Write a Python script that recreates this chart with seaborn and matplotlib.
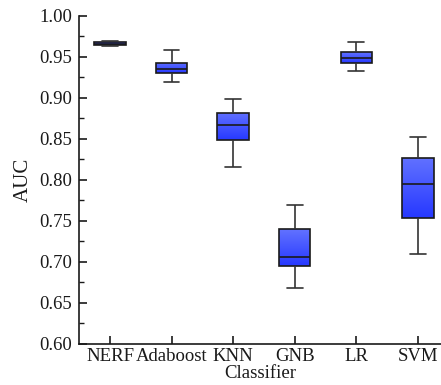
import numpy as np
import pandas as pd
import matplotlib
matplotlib.use("Agg")
import matplotlib.pyplot as plt
from matplotlib.colors import LinearSegmentedColormap
from matplotlib.ticker import MultipleLocator
import seaborn as sns

# Data: [lower whisker, Q1, median, Q3, upper whisker]
classifiers = ["NERF", "Adaboost", "KNN", "GNB", "LR", "SVM"]
nerf = [0.9630, 0.9640, 0.9660, 0.9680, 0.9700]
adaboost = [0.9200, 0.9300, 0.9350, 0.9423, 0.9580]
knn = [0.8162, 0.8484, 0.8667, 0.8820, 0.8990]
gnb = [0.6687, 0.6951, 0.7065, 0.7402, 0.7691]
lr = [0.9326, 0.9423, 0.9484, 0.9557, 0.9687]
svm = [0.7094, 0.7533, 0.7947, 0.8268, 0.8524]
yticks = [0.60, 0.65, 0.70, 0.75, 0.80, 0.85, 0.90, 0.95, 1.00]

values = [nerf, adaboost, knn, gnb, lr, svm]
df = pd.DataFrame({
    "Classifier": np.repeat(classifiers, [len(v) for v in values]),
    "AUC": np.concatenate(values),
})

sns.set_style("ticks")
plt.rcParams["font.family"] = ["Liberation Serif", "DejaVu Serif"]

fig = plt.figure(figsize=(4.41, 3.85), dpi=100)
ax = fig.add_axes([0.1796, 0.1065, 0.8204, 0.852])

sns.boxplot(data=df, x="Classifier", y="AUC", order=classifiers, whis=np.inf,
            width=0.51, color="#4a5cff", linewidth=1.2,
            boxprops=dict(edgecolor="#1a1a1a"),
            medianprops=dict(color="#1a1a1a", linewidth=1.2),
            whiskerprops=dict(color="#333333", linewidth=1.2),
            capprops=dict(color="#333333", linewidth=1.2),
            ax=ax)

cmap = LinearSegmentedColormap.from_list("g", ["#2638ff", "#6272ff"])
grad = np.linspace(0, 1, 256).reshape(-1, 1)
for patch in list(ax.patches):
    ext = patch.get_path().get_extents()
    patch.set_facecolor("none")
    im = ax.imshow(grad, cmap=cmap, origin="lower", aspect="auto",
                   extent=[ext.x0, ext.x1, ext.y0, ext.y1], zorder=patch.get_zorder() - 0.1,
                   interpolation="bilinear")
    im.set_clip_path(patch)

ax.set_xlim(-0.5, 5.375)
ax.set_ylim(0.60, 1.00)
ax.set_yticks(yticks)
ax.set_yticklabels([f"{t:.2f}" for t in yticks])
ax.yaxis.set_minor_locator(MultipleLocator(0.025))
ax.tick_params(axis="both", which="major", direction="in", length=6, width=1.2,
               labelsize=13.5, color="#1a1a1a", labelcolor="#1a1a1a")
ax.tick_params(axis="y", which="minor", direction="in", length=3.5, width=1.0, color="#1a1a1a")
ax.tick_params(axis="x", pad=3)
ax.tick_params(axis="y", pad=5)
for s in ["left", "bottom"]:
    ax.spines[s].set_linewidth(1.2)
    ax.spines[s].set_color("#1a1a1a")
ax.spines["top"].set_visible(False)
ax.spines["right"].set_visible(False)
ax.set_xlabel("Classifier", fontsize=13.5, labelpad=0, color="#1a1a1a")
ax.set_ylabel("AUC", fontsize=15, labelpad=5, color="#1a1a1a")

fig.savefig("out.png", dpi=100)
